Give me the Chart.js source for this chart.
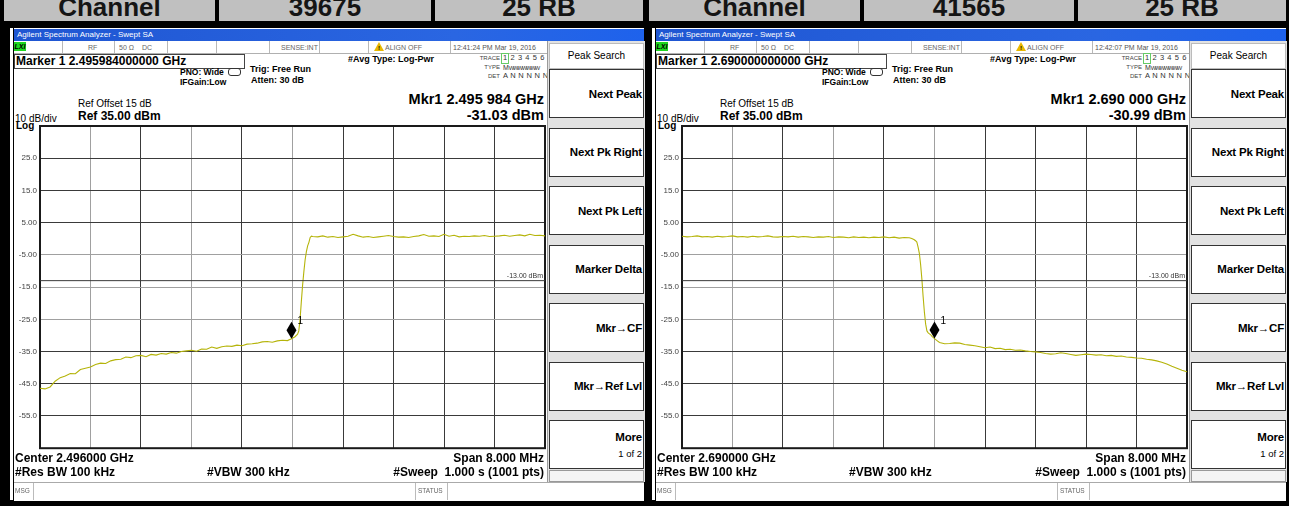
<!DOCTYPE html>
<html>
<head>
<meta charset="utf-8">
<script src="https://cdn.jsdelivr.net/npm/chart.js@4.4.1/dist/chart.umd.min.js"></script>
<style>
html, body { margin: 0; padding: 0; background: #000; width: 1289px; height: 506px; overflow: hidden; font-family: "Liberation Sans", Arial, sans-serif; }
.hdr { position: absolute; top: 0; height: 21px; background: #c0c0c0; overflow: hidden; }
.hdr span { position: absolute; left: 0; right: 0; top: -8px; text-align: center; font-weight: bold; font-size: 26px; line-height: 30px; color: #151515; }
.panel { position: absolute; top: 0; width: 646px; height: 506px; }
.abs { position: absolute; white-space: nowrap; color: #000; }
.edge { position: absolute; left: 10px; top: 28px; width: 3px; height: 472px; background: #fff; }
.screen { position: absolute; left: 14px; top: 28px; width: 630px; height: 472px; background: #fff; }
.title { position: absolute; left: 14px; top: 29px; width: 627px; height: 12px; padding-left: 3px; font-size: 8px; line-height: 12px; color: #fff; background: linear-gradient(to right, #1f56d2, #2a66e2 70%, #1e62ec); }
.status { position: absolute; left: 14px; top: 41px; width: 533px; height: 12px; border-bottom: 1px solid #b0b0b0; background: #fff; }
.sep { position: absolute; top: 41px; width: 1px; height: 12px; background: #b8b8b8; }
.lxi { position: absolute; left: 14px; top: 42px; width: 12px; height: 9px; background: #1fd61f; font-size: 7px; line-height: 9px; font-weight: bold; font-style: italic; text-align: center; }
.mbox { position: absolute; left: 14px; top: 54px; width: 229px; height: 13px; border: 1px solid #444; }
.softcol { position: absolute; left: 547px; top: 41px; width: 97px; height: 441px; background: #e2e2e2; border-left: 1px solid #9a9a9a; }
.key { position: absolute; left: 549px; width: 92px; height: 47px; background: #fff; border: 1px solid #333; display: flex; flex-direction: column; align-items: flex-end; justify-content: center; padding-right: 1px; font-weight: bold; font-size: 11.5px; letter-spacing: -0.2px; }
.ps { position: absolute; left: 549px; top: 43px; width: 93px; height: 24px; background: #fff; border: 1px solid #bbb; font-size: 10px; line-height: 24px; text-align: center; }
.msg { position: absolute; left: 14px; top: 482px; width: 630px; height: 18px; background: #fff; border-top: 1px solid #aaa; }
.plot { position: absolute; left: 14px; top: 118px; width: 534px; height: 338px; }
.warn { position: absolute; width: 0; height: 0; border-left: 5px solid transparent; border-right: 5px solid transparent; border-bottom: 9px solid #e8b800; }
</style>
</head>
<body>
<div id="root"></div>
<script>
// Sweep: 8 MHz span, 1001 pts, levels in dBm (ref 35 dBm, 10 dB/div)
const SPAN_MHZ = 8.0;
const REF_LEVEL_DBM = 35;
const BOTTOM_LEVEL_DBM = -65;
const LIMIT_DBM = -13;

const LEFT_START_MHZ = 2492.0;
const LEFT_MARKER_MHZ = 2495.984;
const LEFT_MARKER_DBM = -31.03;

const RIGHT_START_MHZ = 2686.0;
const RIGHT_MARKER_MHZ = 2690.0;
const RIGHT_MARKER_DBM = -30.99;

const leftOffsetsMHz = [
  0.00, 0.08, 0.16, 0.24, 0.32, 0.40, 0.48, 0.56, 0.64, 0.72, 0.80, 0.88, 0.96, 1.04, 1.12, 1.20,
  1.28, 1.36, 1.44, 1.52, 1.60, 1.68, 1.76, 1.84, 1.92, 2.00, 2.08, 2.16, 2.24, 2.32, 2.40, 2.48,
  2.56, 2.64, 2.72, 2.80, 2.88, 2.96, 3.04, 3.12, 3.20, 3.28, 3.36, 3.44, 3.52, 3.60, 3.68, 3.76,
  3.84, 3.92, 3.984, 4.04, 4.08, 4.10, 4.12, 4.14, 4.16, 4.18, 4.20, 4.22, 4.24, 4.26, 4.28, 4.30,
  4.32, 4.40, 4.48, 4.56, 4.64, 4.72, 4.80, 4.88, 4.96, 5.04, 5.12, 5.20, 5.28, 5.36, 5.44, 5.52,
  5.60, 5.68, 5.76, 5.84, 5.92, 6.00, 6.08, 6.16, 6.24, 6.32, 6.40, 6.48, 6.56, 6.64, 6.72, 6.80,
  6.88, 6.96, 7.04, 7.12, 7.20, 7.28, 7.36, 7.44, 7.52, 7.60, 7.68, 7.76, 7.84, 7.92, 8.00
];
const leftLevelsDbm = [
  -46.4, -46.6, -46.0, -44.2, -43.1, -42.6, -41.8, -41.9, -40.6, -40.2, -39.8, -39.0, -38.6, -38.7, -37.9, -37.5,
  -37.4, -36.7, -36.9, -36.3, -36.2, -36.6, -35.9, -36.1, -35.6, -35.8, -35.3, -35.5, -35.0, -34.8, -34.6, -34.9,
  -34.2, -34.3, -33.6, -34.0, -33.5, -33.3, -33.4, -33.0, -33.2, -32.7, -32.6, -32.4, -32.0, -31.9, -32.1, -31.7,
  -31.5, -31.6, -31.03, -30.4, -29.6, -28.6, -25.0, -19.5, -14.4, -10.2, -6.5, -4.0, -2.2, -1.1, 0.4, 0.8,
  0.7, 0.6, 0.9, 0.5, 0.7, 0.4, 0.6, 0.8, 1.4, 0.9, 0.5, 0.7, 0.4, 0.6, 0.8, 1.0,
  0.7, 0.5, 0.6, 0.4, 0.7, 0.9, 1.3, 0.8, 0.9, 0.7, 1.4, 0.8, 1.1, 0.6, 0.8, 0.7,
  0.9, 0.8, 1.0, 0.7, 0.8, 0.9, 1.1, 0.8, 1.0, 1.2, 0.9, 1.4, 1.0, 1.1, 0.9
];

const rightOffsetsMHz = [
  0.00, 0.08, 0.16, 0.24, 0.32, 0.40, 0.48, 0.56, 0.64, 0.72, 0.80, 0.88, 0.96, 1.04, 1.12, 1.20,
  1.28, 1.36, 1.44, 1.52, 1.60, 1.68, 1.76, 1.84, 1.92, 2.00, 2.08, 2.16, 2.24, 2.32, 2.40, 2.48,
  2.56, 2.64, 2.72, 2.80, 2.88, 2.96, 3.04, 3.12, 3.20, 3.28, 3.36, 3.44, 3.52, 3.60, 3.64, 3.68,
  3.70, 3.72, 3.74, 3.76, 3.78, 3.80, 3.82, 3.84, 3.86, 3.88, 3.90, 3.92, 3.94, 3.96, 4.00, 4.04,
  4.08, 4.16, 4.24, 4.32, 4.40, 4.48, 4.56, 4.64, 4.72, 4.80, 4.88, 4.96, 5.04, 5.12, 5.20, 5.28,
  5.36, 5.44, 5.52, 5.60, 5.68, 5.76, 5.84, 5.92, 6.00, 6.08, 6.16, 6.24, 6.32, 6.40, 6.48, 6.56,
  6.64, 6.72, 6.80, 6.88, 6.96, 7.04, 7.12, 7.20, 7.28, 7.36, 7.44, 7.52, 7.60, 7.68, 7.76, 7.84,
  7.92, 8.00
];
const rightLevelsDbm = [
  0.8, 0.6, 0.7, 0.9, 0.6, 0.7, 0.5, 0.8, 0.6, 0.7, 0.9, 0.6, 0.7, 0.5, 0.8, 0.6,
  0.7, 0.9, 0.6, 0.5, 0.7, 0.6, 0.8, 0.5, 0.7, 0.6, 0.4, 0.6, 0.5, 0.7, 0.4, 0.6,
  0.5, 0.3, 0.6, 0.4, 0.5, 0.3, 0.5, 0.4, 0.6, 0.3, 0.5, 0.2, 0.4, 0.3, 0.1, -0.3,
  -0.6, -1.0, -2.6, -4.5, -8.0, -12.5, -18.0, -22.8, -26.5, -28.6, -29.2, -29.5, -29.8, -30.3, -30.99, -31.6,
  -32.2, -32.6, -32.5, -32.3, -32.4, -32.8, -33.0, -33.2, -33.5, -33.8, -33.6, -34.1, -34.0, -34.4, -34.3, -34.6,
  -34.5, -34.8, -35.0, -35.1, -35.3, -35.6, -35.8, -35.7, -35.4, -35.6, -35.9, -36.2, -36.0, -35.8, -35.9, -36.1,
  -36.0, -36.3, -36.2, -36.5, -36.4, -36.7, -36.8, -37.0, -37.1, -37.4, -37.6, -37.9, -38.3, -38.9, -39.6, -40.2,
  -40.8, -41.3
];

const headerCells = [
  { left: 4, width: 211, text: 'Channel' },
  { left: 219, width: 212, text: '39675' },
  { left: 435, width: 208, text: '25 RB' },
  { left: 649, width: 211, text: 'Channel' },
  { left: 864, width: 210, text: '41565' },
  { left: 1078, width: 208, text: '25 RB' }
];

const softkeys = ['Next Peak', 'Next Pk Right', 'Next Pk Left', 'Marker Delta', 'Mkr\u2192CF', 'Mkr\u2192Ref Lvl'];

const panels = [
  {
    dx: 0, clock: '12:41:24 PM Mar 19, 2016', markerLine: 'Marker 1 2.495984000000 GHz',
    mkrFreq: 'Mkr1 2.495 984 GHz', mkrLevel: '-31.03 dBm', center: 'Center 2.496000 GHz',
    start: LEFT_START_MHZ, offsets: leftOffsetsMHz, levels: leftLevelsDbm,
    markerMHz: LEFT_MARKER_MHZ, markerDbm: LEFT_MARKER_DBM
  },
  {
    dx: 642, clock: '12:42:07 PM Mar 19, 2016', markerLine: 'Marker 1 2.690000000000 GHz',
    mkrFreq: 'Mkr1 2.690 000 GHz', mkrLevel: '-30.99 dBm', center: 'Center 2.690000 GHz',
    start: RIGHT_START_MHZ, offsets: rightOffsetsMHz, levels: rightLevelsDbm,
    markerMHz: RIGHT_MARKER_MHZ, markerDbm: RIGHT_MARKER_DBM
  }
];

// grid shading of the analyzer screen (per vertical division)
const X_GRID_SHADE = ['#1a1a1a', '#a0a0a0', '#3a3a3a', '#a0a0a0', '#3a3a3a', '#a0a0a0', '#3a3a3a', '#3a3a3a', '#3a3a3a', '#3a3a3a', '#1a1a1a'];

function txt(x, cy, size, text, style) {
  return '<div class="abs" style="left:' + x + 'px;top:' + (cy - size / 2) + 'px;font-size:' + size +
    'px;line-height:' + size + 'px;' + (style || '') + '">' + text + '</div>';
}
function rtxt(x, cy, size, text, style) {
  return txt(x, cy, size, text, 'transform:translateX(-100%);' + (style || ''));
}

function panelHtml(p, idx) {
  let h = '<div class="panel" style="left:' + p.dx + 'px">';
  h += '<div class="edge"></div><div class="screen"></div>';
  h += '<div class="title">Agilent Spectrum Analyzer - Swept SA</div>';
  h += '<div class="status"></div>';
  [62, 114, 167, 216, 269, 319, 368, 450].forEach(x => { h += '<div class="sep" style="left:' + x + 'px"></div>'; });
  h += '<div class="lxi">LXI</div>';
  h += txt(88, 47, 7, 'RF', 'color:#666');
  h += txt(119, 47, 7, '50 \u03a9', 'color:#666');
  h += txt(142, 47, 7, 'DC', 'color:#666');
  h += txt(281, 47, 7, 'SENSE:INT', 'color:#666');
  h += '<div class="warn" style="left:374px;top:42px"></div>' + txt(378, 48, 6, '!', 'font-weight:bold');
  h += txt(385, 47, 7, 'ALIGN OFF', 'color:#666');
  h += txt(453, 47, 7, p.clock, 'color:#555');

  h += '<div class="mbox"></div>' + txt(16, 61, 12, p.markerLine, 'font-weight:bold');
  h += txt(180, 72, 8.5, 'PNO: Wide', 'font-weight:bold');
  h += '<div class="abs" style="left:228px;top:68px;width:11px;height:6px;border:1px solid #333;border-radius:3px"></div>';
  h += txt(180, 82, 8.5, 'IFGain:Low', 'font-weight:bold');
  h += txt(250, 69, 9, 'Trig: Free Run', 'font-weight:bold');
  h += txt(251, 80, 9, 'Atten: 30 dB', 'font-weight:bold');
  h += txt(348, 59, 9, '#Avg Type: Log-Pwr', 'font-weight:bold');
  h += rtxt(500, 58, 6, 'TRACE', 'color:#444');
  h += '<div class="abs" style="left:501px;top:53px;width:6px;height:9px;border:1px solid #6c6"></div>';
  h += txt(503, 58, 7.5, '1 2 3 4 5 6', 'color:#333;letter-spacing:0.6px');
  h += rtxt(500, 67, 6, 'TYPE', 'color:#444');
  h += txt(503, 67, 7, 'M<span style="letter-spacing:-1.4px;font-size:6px">WWWWWWW</span>', 'color:#333');
  h += rtxt(500, 76, 6, 'DET', 'color:#444');
  h += txt(503, 76, 7.5, 'A N N N N N', 'color:#333;letter-spacing:0.3px');

  h += rtxt(544, 99, 14.5, p.mkrFreq, 'font-weight:bold');
  h += rtxt(544, 115, 14.5, p.mkrLevel, 'font-weight:bold');
  h += txt(78, 104, 10, 'Ref Offset 15 dB');
  h += txt(78, 116, 12, 'Ref 35.00 dBm', 'font-weight:bold');
  h += txt(15, 119, 10, '10 dB/div');
  h += txt(16, 126, 10, 'Log', 'font-weight:bold');

  h += '<div class="plot"><canvas id="plot' + idx + '"></canvas></div>';

  h += txt(15, 458, 12, p.center, 'font-weight:bold');
  h += txt(15, 472, 12, '#Res BW 100 kHz', 'font-weight:bold');
  h += txt(207, 472, 12, '#VBW 300 kHz', 'font-weight:bold');
  h += rtxt(544, 458, 12, 'Span 8.000 MHz', 'font-weight:bold');
  h += rtxt(544, 472, 12, '#Sweep&nbsp;&nbsp;1.000 s (1001 pts)', 'font-weight:bold');

  h += '<div class="msg"></div>';
  h += '<div class="abs" style="left:33px;top:483px;width:1px;height:17px;background:#bbb"></div>';
  h += '<div class="abs" style="left:415px;top:483px;width:31px;height:17px;border-left:1px solid #bbb;border-right:1px solid #bbb"></div>';
  h += txt(15, 491, 6.5, 'MSG', 'color:#666');
  h += txt(418, 491, 6.5, 'STATUS', 'color:#666');

  h += '<div class="softcol"></div>';
  h += '<div class="ps">Peak Search</div>';
  softkeys.forEach((k, i) => {
    h += '<div class="key" style="top:' + (69 + i * 58.5) + 'px">' + k + '</div>';
  });
  h += '<div class="key" style="top:420px"><span>More</span><span style="font-weight:normal;font-size:9.5px;letter-spacing:0;margin-top:5px">1 of 2</span></div>';
  h += '<div class="abs" style="left:549px;top:470px;width:93px;height:10px;border:1px solid #999;background:#f4f4f4"></div>';
  h += '</div>';
  return h;
}

let html = '';
headerCells.forEach(c => {
  html += '<div class="hdr" style="left:' + c.left + 'px;width:' + c.width + 'px"><span>' + c.text + '</span></div>';
});
panels.forEach((p, i) => { html += panelHtml(p, i); });
document.getElementById('root').innerHTML = html;

// frame, -13 dBm label and marker diamond
const screenPlugin = {
  id: 'screen',
  beforeDatasetsDraw(chart) {
    const a = chart.chartArea, ctx = chart.ctx;
    ctx.save();
    ctx.strokeStyle = '#1a1a1a';
    ctx.lineWidth = 2;
    ctx.strokeRect(a.left, a.top, a.right - a.left, a.bottom - a.top);
    const yl = chart.scales.y.getPixelForValue(LIMIT_DBM);
    ctx.fillStyle = '#333';
    ctx.font = '7px "Liberation Sans", Arial';
    ctx.textAlign = 'right';
    ctx.textBaseline = 'alphabetic';
    ctx.fillText('-13.00 dBm', a.right - 2, yl - 3);
    ctx.restore();
  },
  afterDatasetsDraw(chart) {
    const pt = chart.getDatasetMeta(2).data[0];
    if (!pt) return;
    const ctx = chart.ctx, x = pt.x, y = pt.y;
    ctx.save();
    ctx.fillStyle = '#000';
    ctx.beginPath();
    ctx.moveTo(x, y);
    ctx.lineTo(x + 5, y - 8.5);
    ctx.lineTo(x, y - 17);
    ctx.lineTo(x - 5, y - 8.5);
    ctx.closePath();
    ctx.fill();
    ctx.font = '10px "Liberation Sans", Arial';
    ctx.textAlign = 'left';
    ctx.textBaseline = 'middle';
    ctx.fillText('1', x + 6, y - 17);
    ctx.restore();
  }
};

function levelLabel(v) {
  if (v === REF_LEVEL_DBM || v === BOTTOM_LEVEL_DBM) return '';
  return Math.abs(v) >= 10 ? v.toFixed(1) : v.toFixed(2);
}

function levelShade(v) {
  if (v === REF_LEVEL_DBM || v === BOTTOM_LEVEL_DBM) return '#1a1a1a';
  return (v === -5 || v === -15 || v === -25) ? '#a0a0a0' : '#3a3a3a';
}

function createSweepChart(canvas, p) {
  const trace = p.offsets.map((o, i) => ({ x: p.start + o, y: p.levels[i] }));
  const limit = [{ x: p.start, y: LIMIT_DBM }, { x: p.start + SPAN_MHZ, y: LIMIT_DBM }];
  return new Chart(canvas, {
    type: 'line',
    data: {
      datasets: [
        { data: limit, borderColor: '#3a3a3a', borderWidth: 1, pointRadius: 0 },
        { data: trace, borderColor: '#b5b40a', borderWidth: 1.1, pointRadius: 0, tension: 0 },
        { data: [{ x: p.markerMHz, y: p.markerDbm }], showLine: false, pointRadius: 0 }
      ]
    },
    options: {
      responsive: true,
      maintainAspectRatio: false,
      animation: false,
      devicePixelRatio: 1,
      layout: { padding: { top: 8, right: 3, bottom: 6, left: 0 } },
      scales: {
        x: {
          type: 'linear', min: p.start, max: p.start + SPAN_MHZ,
          afterBuildTicks: (s) => { s.ticks = X_GRID_SHADE.map((_, i) => ({ value: p.start + i * SPAN_MHZ / 10 })); },
          afterFit: (s) => { s.height = 0; },
          ticks: { display: false },
          border: { display: false },
          grid: { drawTicks: false, lineWidth: 1, color: (c) => X_GRID_SHADE[c.index] || '#3a3a3a' }
        },
        y: {
          min: BOTTOM_LEVEL_DBM, max: REF_LEVEL_DBM,
          afterFit: (s) => { s.width = 26; },
          ticks: { stepSize: 10, padding: 3, color: '#444', font: { family: '"Liberation Sans", Arial', size: 8 }, callback: levelLabel },
          border: { display: false },
          grid: { drawTicks: false, lineWidth: 1, color: (c) => levelShade(c.tick ? c.tick.value : 0) }
        }
      },
      plugins: { legend: { display: false }, tooltip: { enabled: false } }
    },
    plugins: [screenPlugin]
  });
}

panels.forEach((p, i) => createSweepChart(document.getElementById('plot' + i), p));
</script>
</body>
</html>
